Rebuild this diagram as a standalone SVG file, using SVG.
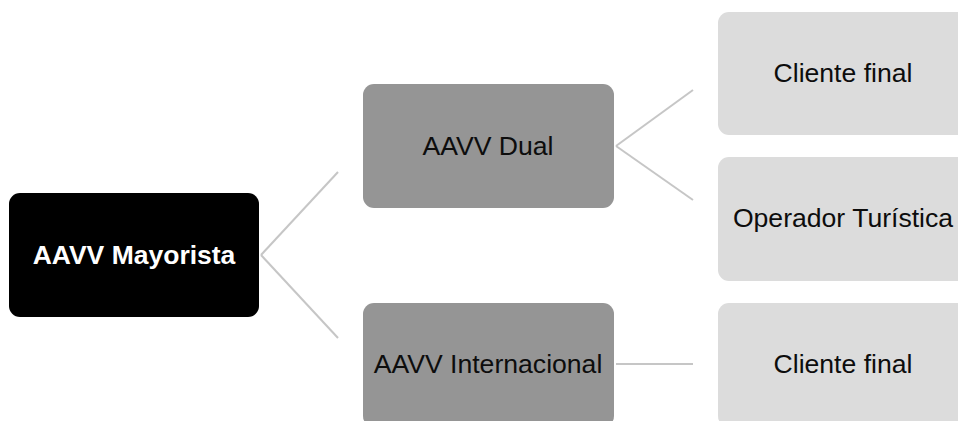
<svg xmlns="http://www.w3.org/2000/svg" width="958" height="421" viewBox="0 0 958 421">
<style>
text{font-family:"Liberation Sans",Arial,sans-serif;font-size:26.6px;text-anchor:middle}
.root rect{fill:#000}
.root text{fill:#fff;font-weight:bold;font-size:26.5px}
.mid rect{fill:#959595}
.mid text{fill:#0d0d0d}
.leaf rect{fill:#dcdcdc}
.leaf text{fill:#0d0d0d}
.conn line{stroke:#c6c6c6;stroke-width:2;fill:none}
</style>
<rect width="958" height="421" fill="#fff"/>
<g class="conn" id="connectors">
<line x1="261" y1="255" x2="338" y2="172"/>
<line x1="261" y1="255" x2="338" y2="338"/>
<line x1="616" y1="146" x2="693" y2="90"/>
<line x1="616" y1="146" x2="693" y2="200"/>
<line x1="616" y1="364" x2="693" y2="364"/>
</g>
<g id="n-mayorista" class="root"><rect x="9" y="193" width="250" height="124" rx="11"/><text x="134" y="264">AAVV Mayorista</text></g>
<g id="n-dual" class="mid"><rect x="363" y="84" width="251" height="124" rx="11"/><text x="488" y="155">AAVV Dual</text></g>
<g id="n-internacional" class="mid"><rect x="363" y="303" width="251" height="124" rx="11"/><text x="488" y="373">AAVV Internacional</text></g>
<g id="n-cliente1" class="leaf"><rect x="718" y="12" width="250" height="123" rx="11"/><text x="843" y="82">Cliente final</text></g>
<g id="n-operador" class="leaf"><rect x="718" y="157" width="250" height="124" rx="11"/><text x="843" y="227">Operador Turística</text></g>
<g id="n-cliente2" class="leaf"><rect x="718" y="303" width="250" height="124" rx="11"/><text x="843" y="373">Cliente final</text></g>
</svg>
